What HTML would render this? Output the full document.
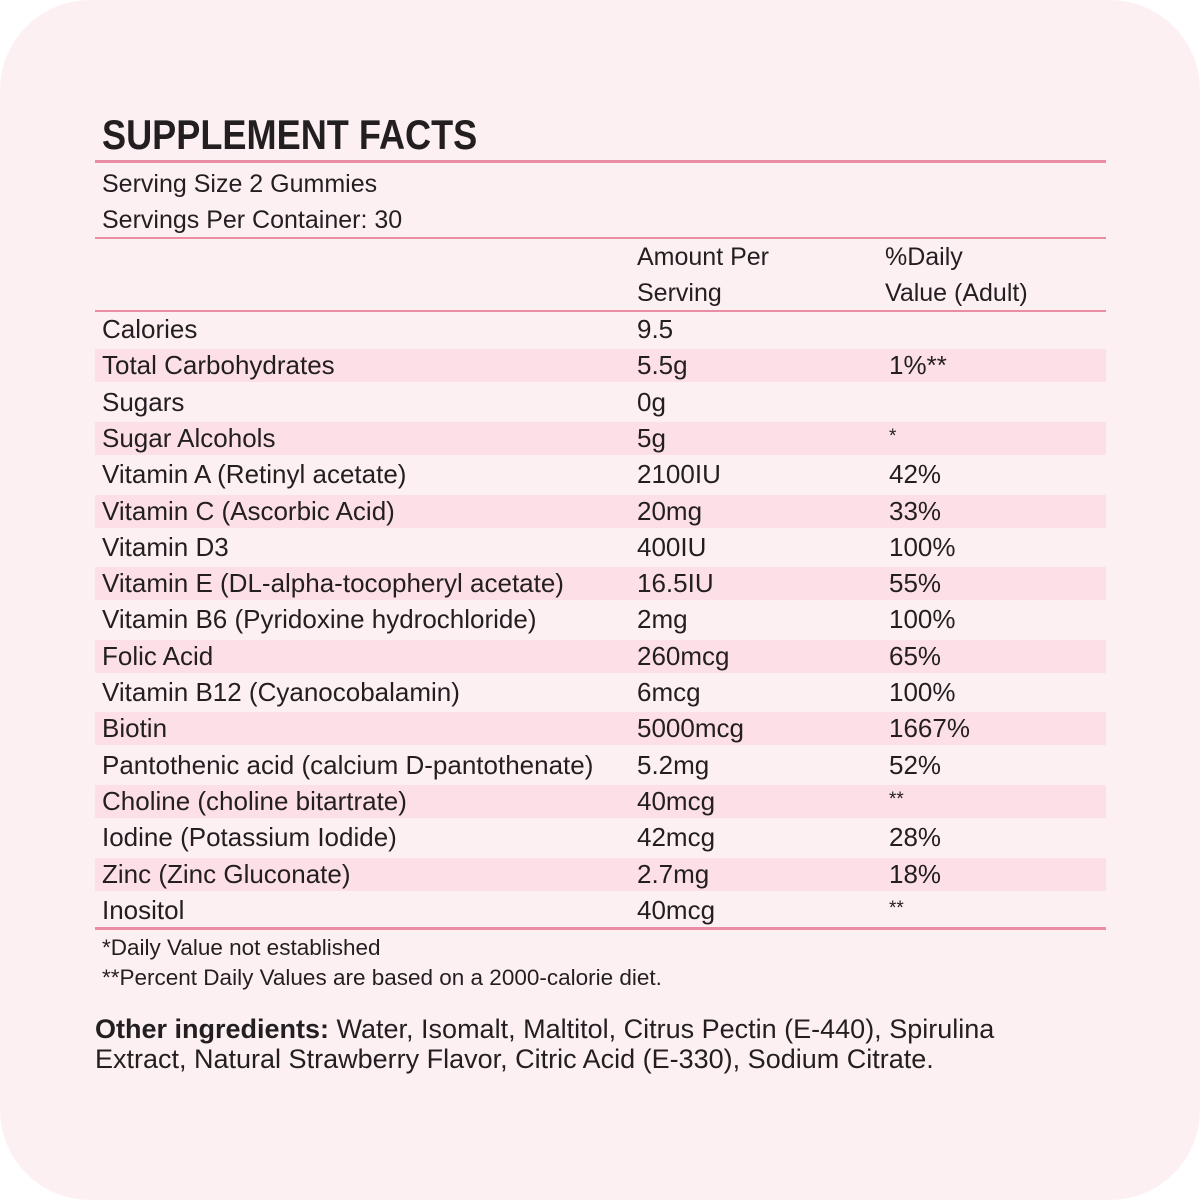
<!DOCTYPE html>
<html><head><style>
body{margin:0;width:1200px;height:1200px;background:#fff;font-family:"Liberation Sans",sans-serif;color:#231f20;}
#bg{position:absolute;left:0;top:0;width:1200px;height:1200px;background:#fdf0f3;border-radius:90px;overflow:hidden}
.t{position:absolute;white-space:nowrap;font-size:25px;line-height:30px}
.r{font-size:26px}
.hr{position:absolute;left:95px;width:1011px;background:#e88da4}
.band{position:absolute;left:95px;width:1011px;background:#fde0e7}
</style></head><body><div id="bg">
<div class="t" style="left:102px;top:112px;font-size:42px;line-height:46px;font-weight:bold;transform:scaleX(0.86);transform-origin:left">SUPPLEMENT FACTS</div>
<div class="hr" style="top:160px;height:3px"></div>
<div class="t" style="left:102px;top:169px">Serving Size 2 Gummies</div>
<div class="t" style="left:102px;top:205px">Servings Per Container: 30</div>
<div class="hr" style="top:237px;height:2px"></div>
<div class="t" style="left:637px;top:242px">Amount Per</div>
<div class="t" style="left:637px;top:278px">Serving</div>
<div class="t" style="left:885px;top:242px">%Daily</div>
<div class="t" style="left:885px;top:278px">Value (Adult)</div>
<div class="hr" style="top:310px;height:2px"></div>
<div id="rows"></div>
<div class="hr" style="top:927px;height:3px"></div>
<div class="t" style="left:102px;top:933px;font-size:22.5px">*Daily Value not established</div>
<div class="t" style="left:102px;top:963px;font-size:22.5px">**Percent Daily Values are based on a 2000-calorie diet.</div>
<div class="t" style="left:95px;top:1014px;font-size:27px"><b>Other ingredients:</b> Water, Isomalt, Maltitol, Citrus Pectin (E-440), Spirulina</div>
<div class="t" style="left:95px;top:1044px;font-size:27px">Extract, Natural Strawberry Flavor, Citric Acid (E-330), Sodium Citrate.</div>
</div>
<script>
var d=[["Calories","9.5",""],["Total Carbohydrates","5.5g","1%**"],["Sugars","0g",""],["Sugar Alcohols","5g","*"],["Vitamin A (Retinyl acetate)","2100IU","42%"],["Vitamin C (Ascorbic Acid)","20mg","33%"],["Vitamin D3","400IU","100%"],["Vitamin E (DL-alpha-tocopheryl acetate)","16.5IU","55%"],["Vitamin B6 (Pyridoxine hydrochloride)","2mg","100%"],["Folic Acid","260mcg","65%"],["Vitamin B12 (Cyanocobalamin)","6mcg","100%"],["Biotin","5000mcg","1667%"],["Pantothenic acid (calcium D-pantothenate)","5.2mg","52%"],["Choline (choline bitartrate)","40mcg","**"],["Iodine (Potassium Iodide)","42mcg","28%"],["Zinc (Zinc Gluconate)","2.7mg","18%"],["Inositol","40mcg","**"]];
var h="";
d.forEach(function(r,i){var top=311+i*36.3;
if(i%2==1)h+='<div class="band" style="top:'+(top+2)+'px;height:33px"></div>';
var ty=top+3;
h+='<div class="t r" style="left:102px;top:'+ty+'px">'+r[0]+'</div>';
h+='<div class="t r" style="left:637px;top:'+ty+'px">'+r[1]+'</div>';
var st=(r[2].charAt(0)=="*")?'font-size:19px;':'';
h+='<div class="t r" style="left:889px;top:'+(st?ty-1:ty)+'px;'+st+'">'+r[2]+'</div>';});
document.getElementById("rows").innerHTML=h;
</script>
</body></html>
